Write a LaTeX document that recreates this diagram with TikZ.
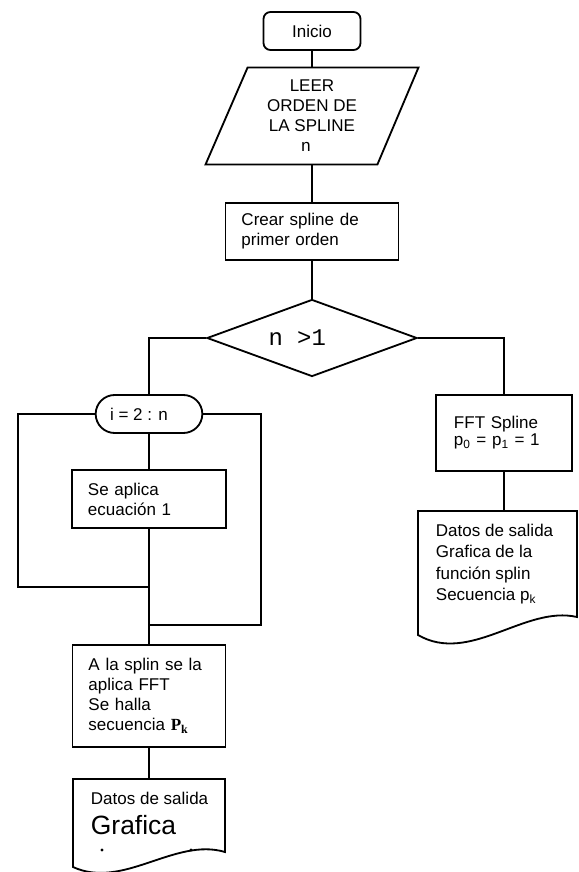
\documentclass[tikz,border=0pt]{standalone}
\usepackage{fontspec}
\setmainfont{Liberation Sans}
\setmonofont{Liberation Mono}
\newfontfamily\romana{Liberation Serif}
\usetikzlibrary{shapes.geometric,shapes.misc}
\begin{document}
\begin{tikzpicture}[x=0.025cm,y=-0.025cm,line width=1.3pt,
  every node/.style={font=\fontsize{12.1}{14.2}\selectfont},
  caja/.style={draw,rectangle,align=left,inner xsep=0.4cm,inner ysep=0pt},
  salida/.style={anchor=north west,align=left,inner xsep=0.425cm,inner ysep=0.3cm}]
\useasboundingbox (0,0) rectangle (578,872);
\node[draw,rounded corners=0.175cm,minimum width=2.425cm,minimum height=0.95cm] (inicio) at (312,31) {Inicio};
\node[minimum width=5.275cm,minimum height=2.375cm,align=center,inner sep=0pt] (leer) at (312,116) {LEER\\ORDEN DE\\LA SPLINE\\{\ttfamily n}\hspace*{0.3cm}};
\draw ([xshift=1.05cm]leer.north west) -- (leer.north east) -- ([xshift=-1.025cm]leer.south east) -- (leer.south west) -- cycle;
\node[caja,text width=3.525cm,minimum height=1.425cm] (crear) at (312,231.5) {Crear spline de\\primer orden};
\node[draw,diamond,aspect=2.7,minimum width=5.25cm,minimum height=1.925cm,inner sep=0pt,font=\ttfamily\fontsize{17}{20}\selectfont] (cond) at (312,338) {n >1\hspace*{0.74cm}};
\node[draw,rounded rectangle,minimum width=2.9cm,minimum height=0.95cm] (bucle) at (149,414) {i = 2 : n\hspace*{0.5cm}};
\node[caja,text width=3.05cm,minimum height=1.45cm] (aplica) at (149,499) {Se aplica\\ecuación 1};
\node[caja,text width=3.025cm,minimum height=2.55cm] (fftL) at (149,696) {A la splin se la\\aplica FFT\\Se halla\\secuencia {\romana\bfseries P\textsubscript{k}}};
\node[salida] (datosL) at (73,779) {Datos de salida\\[7.1pt]{\fontsize{18.8}{21}\selectfont Grafica}};
\node[caja,text width=2.5cm,inner xsep=0.45cm,minimum height=1.9cm,font=\fontsize{12.1}{12.1}\selectfont] (fftR) at (504,433) {FFT Spline\\p\textsubscript{0} = p\textsubscript{1} = 1};
\node[salida,font=\fontsize{12.1}{15.3}\selectfont] (datosR) at (418,511) {Datos de salida\\Grafica de la\\función splin\\Secuencia p\textsubscript{k}};
\coordinate (retorno1) at (149,587);
\coordinate (retorno2) at (149,625);
\draw (73,779) -- (225,779) -- (225,852) .. controls (175,837) and (123,890) .. (73,867) -- cycle;
\draw (418,511) -- (577,511) -- (577,617) .. controls (525,605) and (470,665) .. (418,635) -- cycle;
\fill (102,850) circle[radius=1.1pt];
\fill (191,850) circle[radius=1.1pt];
\draw (inicio.south) -- (leer.north);
\draw (leer.south) -- (crear.north);
\draw (crear.south) -- (cond.north);
\draw (cond.west) -| (bucle.north);
\draw (cond.east) -| (fftR.north);
\draw (bucle.south) -- (aplica.north);
\draw (aplica.south) -- (fftL.north);
\draw (bucle.west) -- ++(-77,0) |- (retorno1);
\draw (bucle.east) -- ++(58,0) |- (retorno2);
\draw (fftL.south) -- (fftL.south |- datosL.north);
\draw (fftR.south) -- (fftR.south |- datosR.north);
\end{tikzpicture}
\end{document}
